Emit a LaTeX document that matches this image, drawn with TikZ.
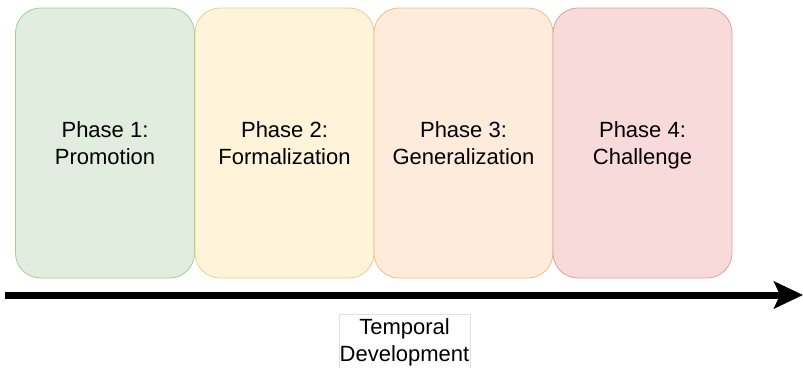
\documentclass[tikz,border=0pt]{standalone}
\usepackage{fontspec}
\setmainfont{Liberation Sans}
\usetikzlibrary{arrows.meta}
\definecolor{gfill}{HTML}{E1EDDF}\definecolor{gline}{HTML}{A7CC92}
\definecolor{yfill}{HTML}{FFF4D9}\definecolor{yline}{HTML}{E8D08E}
\definecolor{ofill}{HTML}{FFEBDB}\definecolor{oline}{HTML}{E8C383}
\definecolor{rfill}{HTML}{F9DADA}\definecolor{rline}{HTML}{D9A3A1}
\tikzset{
  phase/.style={rounded corners=25pt, minimum width=179pt, minimum height=270pt,
    inner sep=0pt, line width=0.8pt},
  ptext/.style={align=center, font=\fontsize{22}{26.8}\selectfont, inner sep=0pt},
  timearrow/.style={line width=7pt, -{Stealth[length=29pt, width=27pt, inset=6pt]}},
  tbox/.style={draw=black!12, line width=0.6pt, minimum width=131pt, minimum height=54pt,
    inner sep=0pt, fill=white}
}
\begin{document}
\begin{tikzpicture}[x=1pt,y=-1pt]
\useasboundingbox (0,0) rectangle (803,367);
\node[phase, fill=gfill, draw=gline] (p1) at (105,143) {};
\node[phase, fill=yfill, draw=yline] (p2) at (284.5,143) {};
\node[phase, fill=ofill, draw=oline] (p3) at (463.5,143) {};
\node[phase, fill=rfill, draw=rline] (p4) at (642.5,143) {};
\node[ptext] (p1t) at ([yshift=-2.5pt]p1.center) {Phase 1:\strut\\Promotion\strut};
\node[ptext] (p2t) at ([yshift=-2.5pt]p2.center) {Phase 2:\strut\\Formalization\strut};
\node[ptext] (p3t) at ([yshift=-2.5pt]p3.center) {Phase 3:\strut\\Generalization\strut};
\node[ptext] (p4t) at ([yshift=-2.5pt]p4.center) {Phase 4:\strut\\Challenge\strut};
\coordinate (s) at (5,295);
\coordinate (e) at (803,295);
\draw[timearrow] (s) -- (e);
\node[tbox] (t) at (404.5,341) {};
\node[ptext] (tt) at ([yshift=-1.5pt]t.center) {Temporal\strut\\Development\strut};
\end{tikzpicture}
\end{document}
